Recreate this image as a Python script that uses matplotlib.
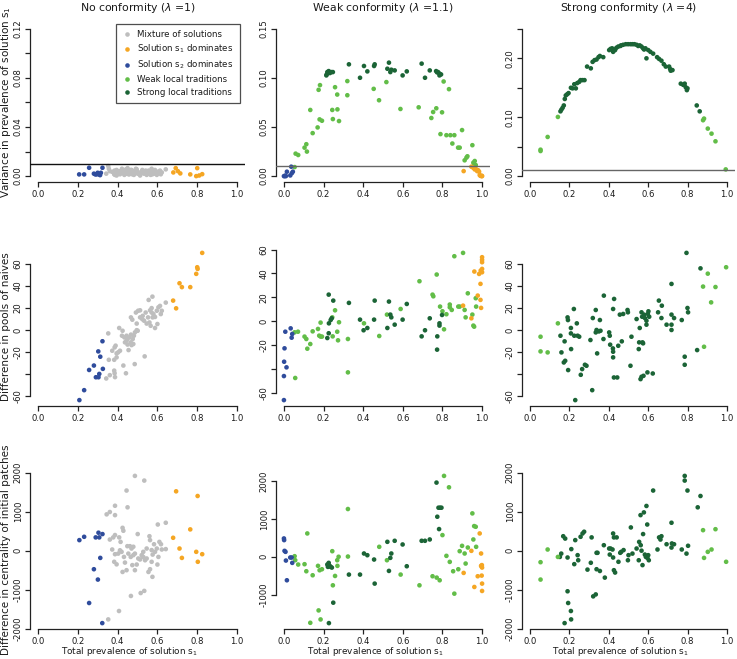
import numpy as np
import matplotlib
matplotlib.use("Agg")
import matplotlib.pyplot as plt
from matplotlib.lines import Line2D

plt.rcParams['font.family'] = ['DejaVu Sans']
plt.rcParams['mathtext.fontset'] = 'dejavusans'

C_GRAY = "#bebebe"
C_ORANGE = "#f5a623"
C_BLUE = "#2f4c9c"
C_LIGHT = "#62bd48"
C_DARK = "#1b6436"

col_titles = ["No conformity ($\\lambda$ =1)", "Weak conformity ($\\lambda$ =1.1)",
              "Strong conformity ($\\lambda$ =4)"]
row_labels = ["Variance in prevalence of solution s$_1$", "Difference in pools of naives",
              "Difference in centrality of initial patches"]
x_label = "Total prevalence of solution s$_1$"
legend_labels = ["Mixture of solutions", "Solution s$_1$ dominates", "Solution s$_2$ dominates",
                 "Weak local traditions", "Strong local traditions"]

# ---------------- column 1 (no conformity) ----------------
c1_gray_x = [0.353, 0.343, 0.361, 0.385, 0.387, 0.442, 0.383, 0.356, 0.383, 0.373,
             0.385, 0.390, 0.395, 0.403, 0.395, 0.412, 0.408, 0.425, 0.422, 0.434,
             0.437, 0.445, 0.450, 0.450, 0.429, 0.455, 0.470, 0.467, 0.476, 0.482,
             0.487, 0.496, 0.501, 0.486, 0.467, 0.474, 0.492, 0.503, 0.496, 0.513,
             0.513, 0.524, 0.533, 0.536, 0.546, 0.556, 0.563, 0.571, 0.575, 0.571,
             0.580, 0.588, 0.588, 0.597, 0.600, 0.605, 0.613, 0.617, 0.622, 0.642,
             0.553, 0.560, 0.566, 0.576, 0.541, 0.526, 0.479, 0.459, 0.466, 0.445]
p1_gray_y = [0.0082, 0.0020, 0.0040, 0.0030, 0.0010, 0.0055, 0.0025, 0.0060, 0.0015, 0.0035,
             0.0045, 0.0020, 0.0005, 0.0030, 0.0050, 0.0015, 0.0040, 0.0025, 0.0060, 0.0010,
             0.0035, 0.0020, 0.0045, 0.0065, 0.0030, 0.0015, 0.0050, 0.0025, 0.0040, 0.0010,
             0.0035, 0.0055, 0.0020, 0.0030, 0.0045, 0.0015, 0.0060, 0.0025, 0.0040, 0.0005,
             0.0030, 0.0050, 0.0020, 0.0035, 0.0010, 0.0045, 0.0025, 0.0060, 0.0015, 0.0040,
             0.0030, 0.0020, 0.0050, 0.0010, 0.0035, 0.0025, 0.0045, 0.0015, 0.0030, 0.0055,
             0.0020, 0.0040, 0.0010, 0.0030, 0.0045, 0.0025, 0.0035, 0.0015, 0.0050, 0.0020]
p1_blue = [(0.207, 0.0014), (0.232, 0.0014), (0.257, 0.0068), (0.281, 0.0020), (0.288, 0.0014),
           (0.294, 0.0014), (0.300, 0.0027), (0.306, 0.0014), (0.312, 0.0008), (0.316, 0.0027),
           (0.324, 0.0068)]
p1_orange = [(0.680, 0.0030), (0.692, 0.0065), (0.703, 0.0040), (0.715, 0.0022), (0.765, 0.0014),
             (0.795, 0.0000), (0.800, 0.0065), (0.810, 0.0005), (0.825, 0.0016)]

p4_gray_y = [-2.9, -43.7, -40.7, -39.0, -42.5, -39.0, -36.6, -26.8, -26.8, -18.6,
             -15.6, -14.0, -21.0, -20.0, -24.6, -18.6, 2.0, -0.5, -5.0, -6.5,
             -11.0, -9.5, -7.7, -13.0, -32.0, -18.0, -13.5, -4.0, -8.0, -5.0,
             -2.0, 0.0, -0.5, -30.7, 11.6, 9.5, 16.0, 17.6, 6.0, 18.0,
             11.6, 10.0, 8.6, -23.7, 6.0, 27.4, 18.0, 20.0, 30.4, 16.0,
             14.6, 12.0, 2.0, 17.6, 5.6, 20.7, 22.0, 14.6, 17.6, 25.0,
             11.6, 7.0, 4.0, 11.6, 16.0, 13.0, -12.5, -6.5, -11.0, -5.0]
p4_blue = [(0.208, -63.3), (0.232, -54.3), (0.257, -36.0), (0.281, -32.0), (0.291, -42.6),
           (0.304, -42.6), (0.308, -39.6), (0.303, -19.2), (0.313, -24.0), (0.324, -10.0),
           (0.326, -35.0)]
p4_orange = [(0.825, 70.0), (0.800, 57.0), (0.802, 55.5), (0.795, 51.0), (0.711, 42.5),
             (0.723, 39.0), (0.765, 39.0), (0.679, 26.8), (0.694, 19.8)]

p7_gray = [(0.487, 1915), (0.534, 1795), (0.445, 1540), (0.387, 1150), (0.361, 990), (0.345, 930),
           (0.387, 910), (0.450, 1110), (0.425, 585), (0.429, 510), (0.387, 400), (0.378, 340),
           (0.408, 340), (0.361, 285), (0.373, 30), (0.387, -90), (0.383, -285), (0.395, -350),
           (0.403, -75), (0.412, 10), (0.420, -30), (0.425, -545), (0.437, -305), (0.449, 115),
           (0.462, 115), (0.470, 55), (0.479, 100), (0.474, -370), (0.487, -500), (0.496, -355),
           (0.466, -160), (0.479, -115), (0.487, -75), (0.501, 425), (0.513, -225), (0.521, -115),
           (0.529, -160), (0.538, -245), (0.546, 55), (0.560, 370), (0.563, 270), (0.571, 15),
           (0.576, -100), (0.555, -545), (0.563, -475), (0.575, -670), (0.583, 165), (0.588, -30),
           (0.597, 55), (0.600, -355), (0.605, -160), (0.610, 225), (0.618, 165), (0.622, 30),
           (0.602, 670), (0.642, 715), (0.642, 40), (0.467, -1160), (0.534, -1030), (0.516, -1085),
           (0.407, -1545), (0.353, -1760), (0.571, -285), (0.546, -200), (0.529, -30), (0.504, -200),
           (0.454, -75), (0.445, -500), (0.415, 225), (0.432, -160)]
p7_blue = [(0.208, 270), (0.232, 355), (0.257, -1340), (0.281, -475), (0.290, 340), (0.304, 460),
           (0.308, 340), (0.301, -740), (0.313, -185), (0.324, 425), (0.323, -1855)]
p7_orange = [(0.694, 1520), (0.802, 1400), (0.765, 545), (0.679, 330), (0.711, 55), (0.723, -185),
             (0.795, -30), (0.825, -90), (0.803, -285)]

# ---------------- column 2 (weak conformity) ----------------
p2_blue = [(0.000, 0.0000), (0.004, 0.0000), (0.007, 0.0005), (0.015, 0.0045), (0.032, 0.0007),
           (0.037, 0.0096), (0.040, 0.0030), (0.045, 0.0045), (0.010, 0.0000)]
p2_orange = [(0.907, 0.0051), (0.946, 0.0096), (0.955, 0.0085), (0.963, 0.0068), (0.975, 0.0051),
             (0.985, 0.0045), (0.988, 0.0010), (0.992, 0.0003), (0.997, 0.0000), (1.000, 0.0000),
             (0.999, 0.0003), (0.980, 0.0060), (0.968, 0.0075)]
p2_light = [(0.054, 0.0092), (0.059, 0.0229), (0.072, 0.0215), (0.104, 0.0290), (0.113, 0.0325),
            (0.116, 0.0250), (0.133, 0.0674), (0.145, 0.0438), (0.170, 0.0496), (0.175, 0.0879),
            (0.182, 0.0927), (0.180, 0.0578), (0.192, 0.0564), (0.244, 0.0674), (0.247, 0.0581),
            (0.258, 0.0906), (0.269, 0.0831), (0.270, 0.0680), (0.278, 0.0561), (0.320, 0.0968),
            (0.320, 0.0824), (0.453, 0.0889), (0.480, 0.0773), (0.517, 0.0958), (0.588, 0.0684),
            (0.680, 0.0701), (0.744, 0.0592), (0.753, 0.0653), (0.769, 0.0691), (0.790, 0.0428),
            (0.798, 0.0650), (0.806, 0.0964), (0.820, 0.0417), (0.833, 0.0886), (0.840, 0.0417),
            (0.850, 0.0332), (0.860, 0.0417), (0.879, 0.0290), (0.887, 0.0290), (0.899, 0.0469),
            (0.912, 0.0161), (0.921, 0.0188), (0.926, 0.0202), (0.951, 0.0315), (0.956, 0.0137),
            (0.960, 0.0120), (0.968, 0.0113), (0.963, 0.0154)]
p2_dark = [(0.214, 0.1026), (0.219, 0.1060), (0.226, 0.1070), (0.232, 0.1050), (0.239, 0.1060),
           (0.247, 0.1060), (0.216, 0.1036), (0.328, 0.1139), (0.384, 0.1002), (0.404, 0.1122),
           (0.421, 0.1067), (0.455, 0.1122), (0.458, 0.1139), (0.522, 0.1094), (0.530, 0.1156),
           (0.537, 0.1060), (0.542, 0.1084), (0.559, 0.1077), (0.599, 0.1026), (0.620, 0.1067),
           (0.695, 0.1146), (0.712, 0.1002), (0.736, 0.1077), (0.768, 0.1070), (0.773, 0.1057),
           (0.778, 0.1060), (0.786, 0.1043), (0.793, 0.1036), (0.785, 0.1026)]

p5_blue = [(0.000, -65.9), (0.000, -45.8), (0.001, -33.8), (0.003, -22.6), (0.013, -38.5),
           (0.007, -8.7), (0.034, -5.9), (0.039, -13.7), (0.042, -10.6)]
p5_orange = [(0.904, 13.1), (0.946, 2.5), (0.961, 41.6), (0.978, 21.5), (0.985, 39.6),
             (0.992, 31.3), (0.992, 17.9), (0.995, 11.2), (0.993, 42.4), (1.000, 53.6),
             (1.000, 51.4), (1.000, 49.4), (1.000, 43.8), (1.000, 41.0)]
p5_light = [(0.054, -9.2), (0.071, -8.7), (0.057, -47.4), (0.104, -12.8), (0.113, -14.8),
            (0.118, -22.9), (0.133, -19.0), (0.145, -8.4), (0.172, -6.4), (0.178, -12.0),
            (0.185, -1.1), (0.192, -12.8), (0.185, -12.8), (0.244, 3.3), (0.246, -12.6),
            (0.258, 9.2), (0.269, -8.7), (0.273, -15.9), (0.278, -0.8), (0.323, -14.8),
            (0.323, -42.7), (0.404, -1.7), (0.481, -12.3), (0.520, 5.6), (0.589, 10.3),
            (0.684, 33.5), (0.750, 22.3), (0.754, 20.9), (0.771, 39.1), (0.788, 12.3),
            (0.800, 8.4), (0.808, -6.7), (0.820, 5.9), (0.837, 14.0), (0.837, 11.7),
            (0.847, 9.5), (0.860, 54.4), (0.880, 12.3), (0.887, 12.3), (0.904, 57.2),
            (0.912, 9.5), (0.917, 3.3), (0.928, 23.4), (0.951, 5.6), (0.956, -3.6),
            (0.960, -4.5), (0.968, 19.3), (0.970, 12.3)]
p5_dark = [(0.226, 22.3), (0.219, -14.0), (0.226, -10.0), (0.227, -1.7), (0.236, 1.1),
           (0.241, 2.5), (0.249, 17.3), (0.328, 15.4), (0.384, 1.4), (0.402, -7.5),
           (0.421, -5.6), (0.455, 1.4), (0.458, 17.3), (0.522, -5.6), (0.530, 16.5),
           (0.537, 5.6), (0.542, 3.3), (0.559, -2.8), (0.599, 1.4), (0.620, 14.5),
           (0.695, -12.6), (0.712, -7.5), (0.736, 2.5), (0.773, -23.7), (0.774, -12.6),
           (0.785, -1.7), (0.785, -3.6), (0.798, 5.3)]

p8_blue = [(0.000, 483), (0.001, 439), (0.003, 156), (0.008, 130), (0.010, -100), (0.015, -620),
           (0.032, -20), (0.039, -20), (0.042, -161)]
p8_orange = [(0.946, 156), (0.907, -426), (0.988, 615), (0.995, 86), (0.997, -250), (1.000, -285),
             (0.999, -220), (0.998, -497), (1.000, -708), (1.000, -902), (0.978, -514),
             (0.961, -797), (0.995, -240)]
p8_light = [(0.054, 15), (0.057, -91), (0.072, -205), (0.104, -196), (0.113, -382), (0.118, 615),
            (0.133, -1742), (0.145, -488), (0.172, -240), (0.175, -1415), (0.180, -356),
            (0.185, -1653), (0.192, -329), (0.244, 147), (0.247, -753), (0.258, -506),
            (0.269, -91), (0.270, -240), (0.276, 0), (0.323, 1259), (0.323, 6), (0.481, 262),
            (0.520, -91), (0.589, -470), (0.684, -753), (0.750, -514), (0.771, -550),
            (0.786, -620), (0.800, 571), (0.808, 2133), (0.820, 24), (0.833, 1832),
            (0.837, -135), (0.854, -382), (0.860, -973), (0.880, -329), (0.887, 147),
            (0.899, 288), (0.912, 86), (0.917, -179), (0.928, 244), (0.951, 1144),
            (0.956, 456), (0.960, 809), (0.968, 791), (0.970, 262)]
p8_dark = [(0.219, -205), (0.222, -267), (0.226, -161), (0.231, -240), (0.236, -267),
           (0.242, -285), (0.227, -1750), (0.249, -1211), (0.328, -470), (0.384, -470),
           (0.404, 86), (0.421, 41), (0.455, -73), (0.458, -708), (0.522, 394), (0.530, -373),
           (0.537, -29), (0.542, 86), (0.559, 421), (0.599, 324), (0.620, -250), (0.695, 421),
           (0.712, 421), (0.736, 456), (0.770, 1956), (0.774, 1056), (0.780, 1294),
           (0.788, 1294), (0.795, 1294), (0.783, 730)]

# ---------------- column 3 (strong conformity) ----------------
p3_light = [(0.054, 0.0449), (0.054, 0.0426), (0.090, 0.0665), (0.142, 0.1005), (0.878, 0.0949),
            (0.883, 0.0977), (0.902, 0.0807), (0.921, 0.0721), (0.941, 0.0591), (0.993, 0.0114)]
p3_dark = [(0.155, 0.110), (0.160, 0.113), (0.166, 0.116), (0.172, 0.120), (0.177, 0.131),
           (0.189, 0.139), (0.196, 0.141), (0.208, 0.150), (0.216, 0.149), (0.225, 0.156),
           (0.233, 0.149), (0.240, 0.158), (0.250, 0.160), (0.257, 0.163), (0.267, 0.163),
           (0.277, 0.163), (0.290, 0.186), (0.309, 0.183), (0.318, 0.194), (0.328, 0.197),
           (0.338, 0.198), (0.348, 0.202), (0.355, 0.204), (0.372, 0.202), (0.402, 0.214),
           (0.409, 0.216), (0.417, 0.217), (0.422, 0.211), (0.427, 0.215), (0.432, 0.214),
           (0.439, 0.218), (0.448, 0.220), (0.459, 0.221), (0.473, 0.223), (0.486, 0.224),
           (0.498, 0.224), (0.510, 0.224), (0.520, 0.224), (0.541, 0.223), (0.549, 0.221),
           (0.557, 0.222), (0.566, 0.220), (0.574, 0.217), (0.579, 0.215), (0.586, 0.217),
           (0.591, 0.200), (0.600, 0.214), (0.611, 0.211), (0.625, 0.208), (0.645, 0.202),
           (0.655, 0.199), (0.667, 0.196), (0.679, 0.190), (0.689, 0.186), (0.706, 0.186),
           (0.711, 0.182), (0.714, 0.179), (0.723, 0.180), (0.765, 0.157), (0.777, 0.155),
           (0.785, 0.157), (0.790, 0.151), (0.796, 0.146), (0.799, 0.149), (0.846, 0.120),
           (0.861, 0.110), (0.182, 0.137), (0.421, 0.213), (0.462, 0.222), (0.530, 0.224)]

p6_light = [(0.054, -5.9), (0.054, -19.2), (0.090, -20.1), (0.142, 6.2), (0.878, 39.5),
            (0.883, -15.0), (0.902, 51.2), (0.919, 25.2), (0.941, 39.1), (0.995, 57.0)]
p6_dark = [(0.155, -5.0), (0.160, -20.1), (0.172, -29.2), (0.179, -27.7), (0.176, -10.1),
           (0.194, -36.1), (0.191, 11.6), (0.193, 9.2), (0.208, 2.0), (0.208, -2.9),
           (0.209, -17.1), (0.223, 19.2), (0.225, -5.0), (0.230, -63.3), (0.238, 6.2),
           (0.242, -5.0), (0.250, -5.9), (0.258, -40.4), (0.265, -35.2), (0.279, -31.3),
           (0.287, -32.2), (0.307, -8.9), (0.316, -54.3), (0.319, 11.0), (0.334, 18.3),
           (0.334, -2.0), (0.338, 0.2), (0.341, -21.0), (0.350, -1.1), (0.355, 9.2),
           (0.358, -0.5), (0.373, -8.0), (0.375, 31.3), (0.402, -2.0), (0.405, -5.0),
           (0.407, -13.1), (0.422, 19.2), (0.427, 28.3), (0.421, -16.5), (0.422, -19.5),
           (0.422, -24.6), (0.426, -42.8), (0.443, -42.8), (0.448, -14.1), (0.456, 14.1),
           (0.466, -10.1), (0.473, 14.7), (0.495, 18.3), (0.497, 16.2), (0.510, -32.2),
           (0.515, -5.9), (0.541, 10.1), (0.552, -17.1), (0.554, -11.0), (0.557, 2.0),
           (0.561, -44.3), (0.566, -42.2), (0.571, -11.0), (0.574, -11.9), (0.566, 16.2),
           (0.569, 12.2), (0.576, -41.3), (0.579, 14.1), (0.583, 11.0), (0.591, 8.6),
           (0.591, 5.0), (0.596, -38.2), (0.598, 14.7), (0.601, 17.1), (0.605, 12.2),
           (0.623, -39.2), (0.650, 16.2), (0.654, 26.8), (0.667, 11.0), (0.669, 22.2),
           (0.693, 5.0), (0.718, 41.9), (0.718, 14.1), (0.718, 5.0), (0.718, 0.2),
           (0.731, 11.0), (0.770, 9.2), (0.785, -24.0), (0.785, -31.3), (0.794, 70.0),
           (0.799, 20.1), (0.802, 16.2), (0.848, -18.0), (0.865, 56.0)]

p9_light = [(0.054, -295), (0.054, -740), (0.090, 30), (0.142, -160), (0.883, -185),
            (0.878, 525), (0.902, -30), (0.921, 30), (0.941, 550), (0.995, -285)]
p9_dark = [(0.152, -160), (0.159, -75), (0.169, 370), (0.179, 310), (0.176, -1855), (0.191, -175),
           (0.191, -1040), (0.194, -1340), (0.208, -1545), (0.209, -1760), (0.210, 40),
           (0.225, -345), (0.230, 270), (0.242, -115), (0.245, -245), (0.257, 355), (0.267, 440),
           (0.275, 485), (0.292, -485), (0.309, -310), (0.313, 340), (0.321, -1170),
           (0.334, -1120), (0.338, -55), (0.343, -55), (0.338, -475), (0.355, -520), (0.375, 140),
           (0.380, -690), (0.402, 55), (0.405, -100), (0.409, 55), (0.419, 30), (0.422, 440),
           (0.426, 340), (0.422, -175), (0.426, -500), (0.432, -560), (0.440, 340), (0.449, -285),
           (0.458, -55), (0.463, -30), (0.475, 15), (0.497, -245), (0.500, -115), (0.512, 595),
           (0.520, -75), (0.541, 55), (0.552, -245), (0.554, 225), (0.561, 910), (0.562, 140),
           (0.566, 0), (0.571, -370), (0.574, 425), (0.578, 980), (0.583, -100), (0.588, -160),
           (0.591, 1145), (0.595, 670), (0.596, -185), (0.600, -115), (0.603, -245), (0.625, 1540),
           (0.647, 30), (0.655, 340), (0.662, 285), (0.667, 370), (0.693, 165), (0.718, 715),
           (0.718, 80), (0.720, 185), (0.731, 165), (0.770, 30), (0.785, 1915), (0.785, 1795),
           (0.794, -75), (0.799, 1540), (0.802, 125), (0.851, 1110), (0.865, 1400)]

# ---------------- layout ----------------
W, H = 737, 659
fig = plt.figure(figsize=(W / 100, H / 100), dpi=100)
col_left = [30, 276, 522]
col_w = [215, 214, 213]
row_top = [23, 247, 470]
row_h = 159

AX_COLOR = "#222222"
TXT_COLOR = "#1a1a1a"
MS = 11
TICK_FS = 6.1


def pairs(p):
    a = np.array(p, dtype=float)
    return a[:, 0], a[:, 1]


def make_ax(r, c):
    l = col_left[c]
    t = row_top[r]
    return fig.add_axes([l / W, 1 - (t + row_h) / H, col_w[c] / W, row_h / H])


def data_ylim(series):
    ys = np.concatenate([pairs(s)[1] for s in series])
    lo, hi = ys.min(), ys.max()
    pad = 0.04 * (hi - lo)
    return lo - pad, hi + pad


def style(ax, yticks, ylabels, ylim):
    ax.set_xlim(-0.04, 1.04)
    ax.set_ylim(*ylim)
    ax.patch.set_visible(False)
    for s in ["top", "right"]:
        ax.spines[s].set_visible(False)
    for s in ["left", "bottom"]:
        ax.spines[s].set_color(AX_COLOR)
        ax.spines[s].set_linewidth(0.9)
    ax.spines["left"].set_bounds(yticks[0], yticks[-1])
    ax.spines["bottom"].set_bounds(0, 1)
    xt = [0, 0.2, 0.4, 0.6, 0.8, 1.0]
    ax.set_xticks(xt)
    ax.set_xticklabels(["%.1f" % v for v in xt])
    ax.set_yticks(yticks)
    ax.set_yticklabels(ylabels, rotation=90, va="center")
    ax.tick_params(direction="out", length=3.6, width=0.9, color=AX_COLOR,
                   labelsize=TICK_FS, labelcolor=TXT_COLOR)
    ax.tick_params(axis="x", pad=2.2)
    ax.tick_params(axis="y", pad=1.6)


def scat(ax, p, color):
    x, y = pairs(p)
    ax.scatter(x, y, s=MS, color=color, edgecolors="none", zorder=3)


def gray_pairs(xs, ys):
    return list(zip(xs, ys))


# Row 1
ax = make_ax(0, 0)
scat(ax, gray_pairs(c1_gray_x, p1_gray_y), C_GRAY)
scat(ax, p1_blue, C_BLUE)
scat(ax, p1_orange, C_ORANGE)
ax.axhline(0.01, color="#111111", lw=1.0, zorder=4)
t1 = [0, 0.02, 0.04, 0.06, 0.08, 0.10, 0.12]
style(ax, t1, ["0.00", "", "0.04", "", "0.08", "", "0.12"], (-0.0048, 0.1248))
handles = [Line2D([0], [0], marker="o", ls="none", markersize=3.3, markerfacecolor=c,
                  markeredgecolor="none") for c in [C_GRAY, C_ORANGE, C_BLUE, C_LIGHT, C_DARK]]
leg = ax.legend(handles, legend_labels, loc="upper right", bbox_to_anchor=(0.977, 0.996),
                fontsize=6.2, frameon=True, fancybox=False, handlelength=1.0,
                handletextpad=0.7, borderpad=0.75, labelspacing=0.42, borderaxespad=0)
leg.get_frame().set_edgecolor("#222222")
leg.get_frame().set_linewidth(0.9)
for t in leg.get_texts():
    t.set_color(TXT_COLOR)

ax = make_ax(0, 1)
scat(ax, p2_light, C_LIGHT)
scat(ax, p2_dark, C_DARK)
scat(ax, p2_blue, C_BLUE)
scat(ax, p2_orange, C_ORANGE)
ax.axhline(0.01, color="#666666", lw=1.0, zorder=4)
style(ax, [0, 0.05, 0.10, 0.15], ["0.00", "0.05", "0.10", "0.15"], (-0.006, 0.156))

ax = make_ax(0, 2)
scat(ax, p3_dark, C_DARK)
scat(ax, p3_light, C_LIGHT)
ax.axhline(0.01, color="#666666", lw=1.0, zorder=4)
style(ax, [0, 0.05, 0.10, 0.15, 0.20, 0.25], ["0.00", "", "0.10", "", "0.20", ""], (-0.01, 0.26))

# Row 2
t2 = [-60, -40, -20, 0, 20, 40, 60]
l2 = ["-60", "", "-20", "0", "20", "40", "60"]
p4_gray = gray_pairs(c1_gray_x, p4_gray_y)
ax = make_ax(1, 0)
scat(ax, p4_gray, C_GRAY)
scat(ax, p4_blue, C_BLUE)
scat(ax, p4_orange, C_ORANGE)
style(ax, t2, l2, data_ylim([p4_gray, p4_blue, p4_orange]))

ax = make_ax(1, 1)
scat(ax, p5_light, C_LIGHT)
scat(ax, p5_dark, C_DARK)
scat(ax, p5_blue, C_BLUE)
scat(ax, p5_orange, C_ORANGE)
style(ax, t2, l2, data_ylim([p5_light, p5_dark, p5_blue, p5_orange]))

ax = make_ax(1, 2)
scat(ax, p6_dark, C_DARK)
scat(ax, p6_light, C_LIGHT)
style(ax, t2, l2, data_ylim([p6_dark, p6_light]))

# Row 3
t3 = [-2000, -1000, 0, 1000, 2000]
l3 = ["-2000", "-1000", "0", "1000", "2000"]
ax = make_ax(2, 0)
scat(ax, p7_gray, C_GRAY)
scat(ax, p7_blue, C_BLUE)
scat(ax, p7_orange, C_ORANGE)
style(ax, t3, l3, data_ylim([p7_gray, p7_blue, p7_orange]))

ax = make_ax(2, 1)
scat(ax, p8_light, C_LIGHT)
scat(ax, p8_dark, C_DARK)
scat(ax, p8_blue, C_BLUE)
scat(ax, p8_orange, C_ORANGE)
style(ax, t3[1:], l3[1:], data_ylim([p8_light, p8_dark, p8_blue, p8_orange]))

ax = make_ax(2, 2)
scat(ax, p9_dark, C_DARK)
scat(ax, p9_light, C_LIGHT)
style(ax, t3, l3, data_ylim([p9_dark, p9_light]))

# Titles, x labels and row labels
for c in range(3):
    x0 = col_left[c] + (0.04 / 1.08) * col_w[c]
    x1 = col_left[c] + (1.04 / 1.08) * col_w[c]
    cx = ((x0 + x1) / 2 - 8) / W
    fig.text((col_left[c] + col_w[c] / 2) / W, 1 - 8 / H, col_titles[c], ha="center",
             va="center", fontsize=7.8, color=TXT_COLOR)
    fig.text(cx, 1 - 652 / H, x_label, ha="center", va="center", fontsize=6.4,
             color=TXT_COLOR)
for r in range(3):
    cy = 1 - (row_top[r] + row_h / 2) / H
    fig.text(6.5 / W, cy, row_labels[r], rotation=90, ha="center", va="center",
             fontsize=7.5, color=TXT_COLOR)

fig.savefig("out.png", dpi=100)
